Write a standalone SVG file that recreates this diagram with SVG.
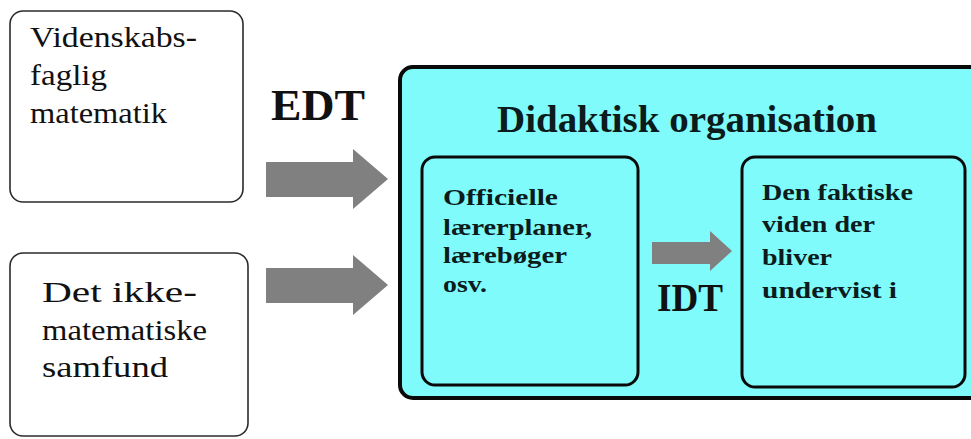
<svg xmlns="http://www.w3.org/2000/svg" width="971" height="439" viewBox="0 0 971 439">
  <style>
    .src { fill: #ffffff; stroke: #2b2b2b; stroke-width: 1.6; }
    .outer { fill: #80fbfb; stroke: #0a0a0a; stroke-width: 4; }
    .inner { fill: #80fbfb; stroke: #0a0a0a; stroke-width: 3; }
    .arrow { fill: #808080; stroke: none; }
    text { font-family: 'Liberation Serif', Tinos, 'Times New Roman', Times, serif; fill: #111111; }
    .lbl { font-size: 30px; }
    .big { font-size: 45px; font-weight: bold; }
    .title { font-size: 38px; font-weight: bold; fill: #0c1c1c; }
    .small { font-size: 24px; font-weight: bold; fill: #0c1c1c; }
  </style>

  <rect x="0" y="0" width="971" height="439" fill="#ffffff"/>

  <!-- source: scientific mathematics -->
  <g id="videnskab" font-family="Liberation Serif, serif">
    <rect class="src" x="10" y="11" width="233" height="191" rx="13"/>
    <text class="lbl" x="30" y="47" textLength="167" lengthAdjust="spacingAndGlyphs">Videnskabs-</text>
    <text class="lbl" x="30" y="85" textLength="77" lengthAdjust="spacingAndGlyphs">faglig</text>
    <text class="lbl" x="30" y="123" textLength="137" lengthAdjust="spacingAndGlyphs">matematik</text>
  </g>

  <!-- source: non-mathematical society -->
  <g id="samfund" font-family="Liberation Serif, serif">
    <rect class="src" x="10" y="253" width="238" height="183" rx="13"/>
    <text class="lbl" x="42" y="302" textLength="155" lengthAdjust="spacingAndGlyphs">Det ikke-</text>
    <text class="lbl" x="42" y="340" textLength="165" lengthAdjust="spacingAndGlyphs">matematiske</text>
    <text class="lbl" x="42" y="377" textLength="126" lengthAdjust="spacingAndGlyphs">samfund</text>
  </g>

  <!-- didactic organisation container -->
  <g id="didaktisk" font-family="Liberation Serif, serif">
    <rect class="outer" x="400" y="67" width="585" height="331" rx="13"/>
    <text class="title" x="497" y="132" textLength="380" lengthAdjust="spacingAndGlyphs">Didaktisk organisation</text>
  </g>

  <g id="officielle" font-family="Liberation Serif, serif">
    <rect class="inner" x="422" y="157" width="216" height="228" rx="13"/>
    <text class="small" x="443" y="205" textLength="115" lengthAdjust="spacingAndGlyphs">Officielle</text>
    <text class="small" x="443" y="235" textLength="149" lengthAdjust="spacingAndGlyphs">lærerplaner,</text>
    <text class="small" x="443" y="263" textLength="124" lengthAdjust="spacingAndGlyphs">lærebøger</text>
    <text class="small" x="443" y="292" textLength="44" lengthAdjust="spacingAndGlyphs">osv.</text>
  </g>

  <g id="faktisk" font-family="Liberation Serif, serif">
    <rect class="inner" x="742" y="157" width="223" height="230" rx="13"/>
    <text class="small" x="762" y="200" textLength="151" lengthAdjust="spacingAndGlyphs">Den faktiske</text>
    <text class="small" x="762" y="232" textLength="113" lengthAdjust="spacingAndGlyphs">viden der</text>
    <text class="small" x="762" y="265" textLength="70" lengthAdjust="spacingAndGlyphs">bliver</text>
    <text class="small" x="762" y="298" textLength="135" lengthAdjust="spacingAndGlyphs">undervist i</text>
  </g>

  <!-- transposition arrows and their labels -->
  <g id="connectors" font-family="Liberation Serif, serif">
    <path class="arrow" d="M266,162 H353 V149 L388,179 L353,209 V197 H266 Z"/>
    <path class="arrow" d="M266,268 H353 V255 L388,285 L353,315 V303 H266 Z"/>
    <path class="arrow" d="M652,242 H710 V231 L732,251 L710,271 V264 H652 Z"/>
    <text class="big" x="271" y="120" textLength="94" lengthAdjust="spacingAndGlyphs">EDT</text>
    <text class="big" x="657" y="311" style="font-size:40px" textLength="66" lengthAdjust="spacingAndGlyphs">IDT</text>
  </g>
</svg>
